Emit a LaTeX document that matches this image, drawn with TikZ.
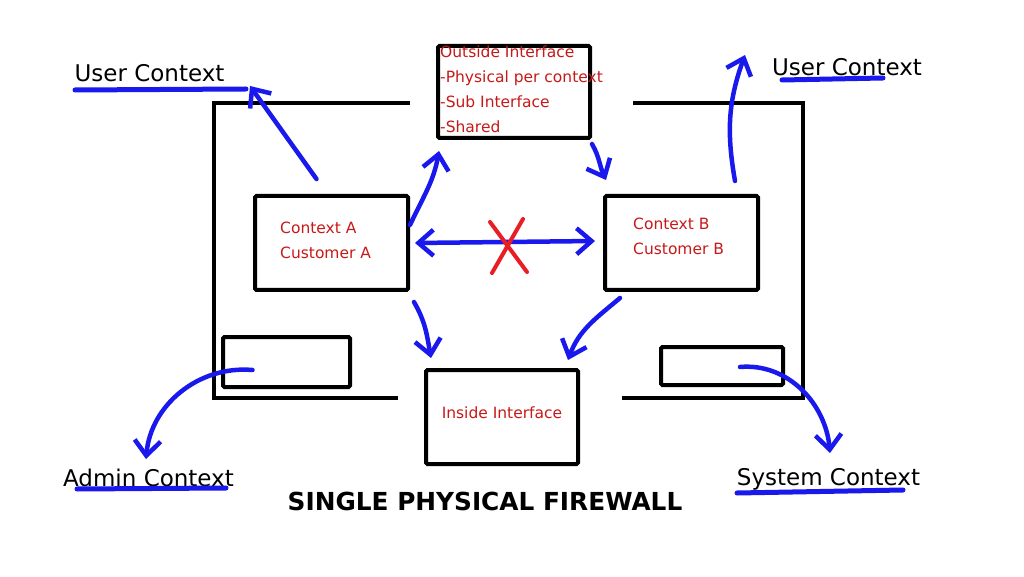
\documentclass[tikz,border=0pt]{standalone}
\usepackage{fontspec}
\setmainfont{DejaVu Sans}
\usetikzlibrary{arrows.meta}
\definecolor{penblue}{RGB}{25,25,238}
\definecolor{txtred}{RGB}{200,25,25}
\definecolor{xred}{RGB}{232,30,36}
\begin{document}
\begin{tikzpicture}[x=1pt,y=1pt,
	penhead/.tip={Straight Barb[length=15pt,width=26pt]},
	fwbox/.style={draw,line width=4pt,rounded corners=1.5pt,inner sep=0pt},
	bluepen/.style={penblue,line width=4.5pt,line cap=round,-penhead},
	redtxt/.style={txtred,font=\fontsize{15.5}{25}\selectfont,align=left,inner sep=0pt},
	ctxlabel/.style={font=\fontsize{23}{28}\selectfont,inner sep=0pt,anchor=base},
	uline/.style={penblue,line width=5pt,line cap=round}]
	\useasboundingbox (0,0) rectangle (1024,576);
	\fill[white] (0,0) rectangle (1024,576);
	\draw[line width=4pt] (410,473) -- (214,473) -- (214,178) -- (398,178);
	\draw[line width=4pt] (633,473) -- (803,473) -- (803,178) -- (622,178);
	\node[fwbox,minimum width=152pt,minimum height=92pt] (outside) at (514,484) {};
	\node[fwbox,minimum width=153pt,minimum height=94pt] (ctxA) at (331.5,333) {};
	\node[fwbox,minimum width=153pt,minimum height=94pt] (ctxB) at (681.5,333) {};
	\node[fwbox,minimum width=127pt,minimum height=50pt] (smallL) at (286.5,214) {};
	\node[fwbox,minimum width=122pt,minimum height=38pt] (smallR) at (722,210) {};
	\node[fwbox,minimum width=152pt,minimum height=94pt] (inside) at (502,159) {};
	\node[redtxt,anchor=north west] (outsideTxt) at (440,530) {Outside Interface\\-Physical per context\\-Sub Interface\\-Shared};
	\node[redtxt,anchor=north west] (ctxAtxt) at (280,354) {Context A\\Customer A};
	\node[redtxt,anchor=north west] (ctxBtxt) at (633,358) {Context B\\Customer B};
	\node[redtxt] (insideTxt) at (502,163) {Inside Interface};
	\node[ctxlabel] (userL) at (149.5,494) {User Context};
	\node[ctxlabel] (userR) at (847,500) {User Context};
	\node[ctxlabel] (admin) at (148.5,90) {Admin Context};
	\node[ctxlabel] (system) at (828.5,91) {System Context};
	\node[font=\fontsize{24.8}{28}\selectfont\bfseries,anchor=base] (title) at (485,66) {SINGLE PHYSICAL FIREWALL};
	\draw[uline] (75,486) -- (246,487);
	\draw[uline] (782,496) -- (883,498);
	\draw[uline] (77,87) -- (226,88);
	\draw[uline] (737,83) -- (903,86);
	\coordinate (ulTip) at (250,490);
	\coordinate (urTip) at (745,521);
	\coordinate (adTip) at (146,117);
	\coordinate (scTip) at (830,123);
	\coordinate (noPass) at (508,330);
	\draw[bluepen] ([shift={(-15,15)}]ctxA.north) -- (ulTip);
	\draw[bluepen] ([yshift=18pt]ctxA.east) to[out=65,in=-100] ([shift={(3,-11)}]outside.south west);
	\draw[bluepen] ([yshift=-4pt]outside.south east) to[out=-60,in=115] ([shift={(3,14)}]ctxB.north west);
	\draw[bluepen,penhead-penhead] ([xshift=5pt]ctxA.east) -- ([shift={(-8,2)}]ctxB.west);
	\draw[xred,line width=4pt,line cap=round] ([shift={(-18,24)}]noPass) -- ([shift={(19,-26)}]noPass)
		([shift={(15,27)}]noPass) -- ([shift={(-16,-27)}]noPass);
	\draw[bluepen] ([shift={(4,-10)}]ctxA.south east) to[out=-60,in=100] ([shift={(7,10)}]inside.north west);
	\draw[bluepen] ([shift={(17,-6)}]ctxB.south west) to[out=-140,in=70] ([shift={(-12,8)}]inside.north east);
	\draw[bluepen] ([shift={(-25,13)}]ctxB.north east) to[out=100,in=-110] (urTip);
	\draw[bluepen] ([shift={(-34,-8)}]smallL.center) to[out=175,in=85] (adTip);
	\draw[bluepen] ([shift={(18,-1)}]smallR.center) to[out=5,in=95] (scTip);
\end{tikzpicture}
\end{document}
